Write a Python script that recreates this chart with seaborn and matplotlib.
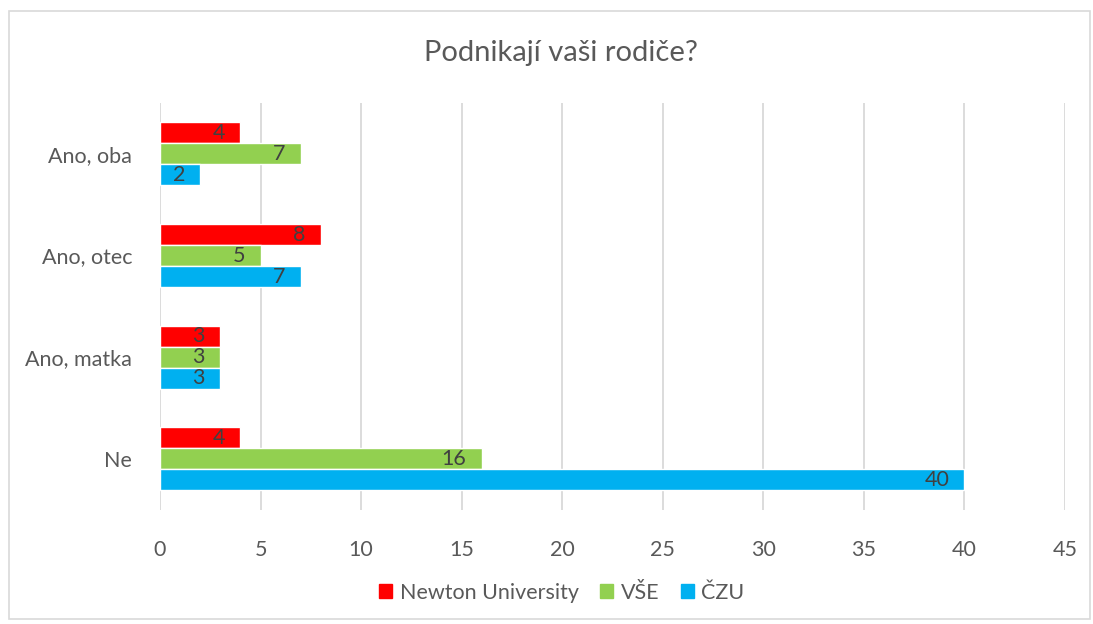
import matplotlib
matplotlib.use("Agg")
import matplotlib.pyplot as plt
import matplotlib.patches as mpatches
import seaborn as sns
import pandas as pd

categories = ["Ano, oba", "Ano, otec", "Ano, matka", "Ne"]
schools = ["Newton University", "VŠE", "ČZU"]
newton = [4, 8, 3, 4]
vse = [7, 5, 3, 16]
czu = [2, 7, 3, 40]
colors = ["#FF0000", "#92D050", "#00B0F0"]

rows = []
for school, vals in zip(schools, [newton, vse, czu]):
    for cat, v in zip(categories, vals):
        rows.append({"kategorie": cat, "skola": school, "pocet": v})
df = pd.DataFrame(rows)

sns.set_style("white")
plt.rcParams["font.family"] = ["Lato", "DejaVu Sans"]
text_color = "#595959"

fig = plt.figure(figsize=(10.93, 6.24), dpi=100)
ax = fig.add_axes([0.1464, 0.183, 0.828, 0.652])

sns.barplot(data=df, y="kategorie", x="pocet", hue="skola", order=categories,
            hue_order=schools, palette=colors, width=0.62, orient="h",
            saturation=1, ax=ax, legend=False)

# popisky hodnot uvnitr na konci sloupce
for container in ax.containers:
    for bar in container:
        w = bar.get_width()
        ax.annotate(f"{int(w)}", (w, bar.get_y() + bar.get_height() / 2),
                    xytext=(-11, 0), textcoords="offset points",
                    ha="right", va="center", fontsize=15.5, color="#404040")

ax.set_xlim(0, 45)
ax.set_ylim(3.5, -0.5)
ax.set_xticks(range(0, 46, 5))
ax.xaxis.grid(True, color="#D9D9D9", linewidth=1.3)
ax.set_axisbelow(True)
for s in ax.spines.values():
    s.set_visible(False)
ax.tick_params(axis="both", length=0, labelsize=15.5, colors=text_color)
ax.tick_params(axis="x", pad=22)
ax.tick_params(axis="y", pad=20)
ax.set_xlabel("")
ax.set_ylabel("")

fig.text(0.513, 0.915, "Podnikají vaši rodiče?", ha="center", va="center",
         fontsize=21, color=text_color)

handles = [mpatches.Patch(color=c, label=s) for c, s in zip(colors, schools)]
fig.legend(handles=handles, loc="center", bbox_to_anchor=(0.514, 0.05), ncol=3,
           frameon=False, fontsize=15.5, handlelength=0.6, handleheight=0.6,
           handletextpad=0.35, columnspacing=1.0, labelcolor=text_color)

border = mpatches.Rectangle((0.008, 0.008), 0.989, 0.975, transform=fig.transFigure,
                            fill=False, edgecolor="#D9D9D9", linewidth=1.2)
fig.patches.append(border)

fig.savefig("out.png", dpi=100)
